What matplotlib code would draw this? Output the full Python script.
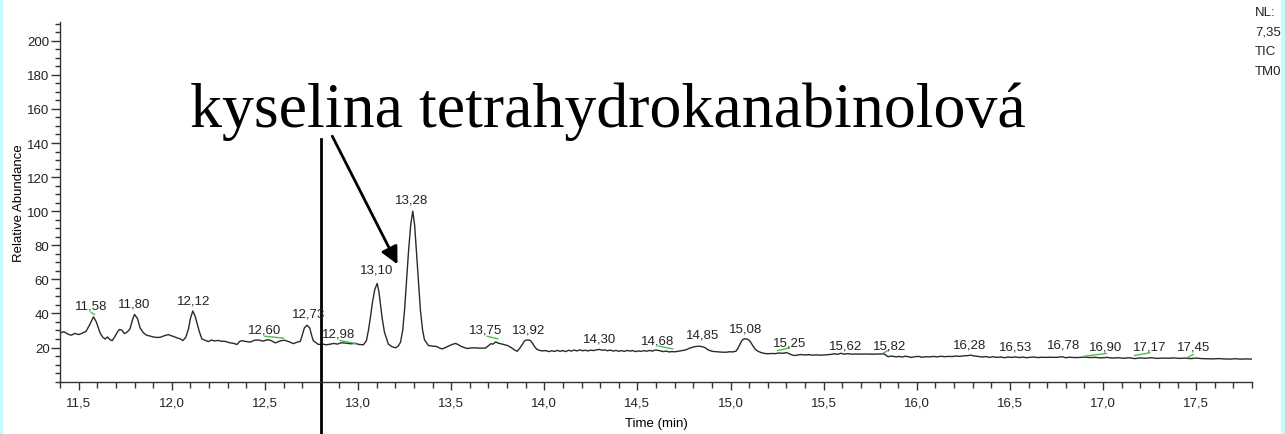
import matplotlib
matplotlib.use("Agg")
import matplotlib.pyplot as plt
from matplotlib.ticker import MultipleLocator, FuncFormatter
from matplotlib.patches import Rectangle

# TIC trace (time in min, relative abundance)
trace_t = [
    11.40, 11.42, 11.44, 11.46, 11.48, 11.50, 11.52, 11.54, 11.56, 11.58,
    11.595, 11.615, 11.63, 11.643, 11.655, 11.668, 11.68, 11.695, 11.708, 11.72,
    11.732, 11.745, 11.755, 11.765, 11.776, 11.79, 11.80, 11.816, 11.83, 11.848,
    11.865, 11.884, 11.90, 11.92, 11.938, 11.96, 11.982, 11.995, 12.009, 12.03,
    12.045, 12.06, 12.075, 12.09, 12.10, 12.113, 12.125, 12.135, 12.149, 12.162,
    12.18, 12.196, 12.215, 12.23, 12.249, 12.265, 12.287, 12.31, 12.33, 12.35,
    12.365, 12.377, 12.40, 12.422, 12.445, 12.465, 12.49, 12.518, 12.535, 12.556,
    12.58, 12.604, 12.625, 12.653, 12.675, 12.69, 12.70, 12.712, 12.726, 12.741,
    12.75, 12.76, 12.787, 12.81, 12.83, 12.852, 12.87, 12.89, 12.91, 12.932,
    12.96, 12.986, 13.005, 13.029, 13.045, 13.056, 13.067, 13.077, 13.09, 13.103,
    13.112, 13.12, 13.13, 13.142, 13.163, 13.18, 13.201, 13.215, 13.228, 13.24,
    13.25, 13.26, 13.271, 13.283, 13.294, 13.304, 13.314, 13.325, 13.335, 13.347,
    13.357, 13.378, 13.40, 13.422, 13.44, 13.452, 13.47, 13.486, 13.505, 13.524,
    13.54, 13.551, 13.57, 13.587, 13.61, 13.632, 13.655, 13.685, 13.70, 13.712,
    13.725, 13.739, 13.752, 13.766, 13.785, 13.802, 13.825, 13.84, 13.855, 13.87,
    13.884, 13.892, 13.90, 13.915, 13.927, 13.94, 13.949, 13.96, 13.972, 13.99,
    14.008, 14.025, 14.04, 14.055, 14.07, 14.085, 14.10, 14.115, 14.13, 14.145,
    14.16, 14.175, 14.19, 14.205, 14.22, 14.235, 14.25, 14.265, 14.28, 14.295,
    14.31, 14.325, 14.34, 14.355, 14.37, 14.385, 14.40, 14.415, 14.43, 14.445,
    14.46, 14.475, 14.49, 14.505, 14.52, 14.535, 14.55, 14.565, 14.58, 14.595,
    14.608, 14.625, 14.64, 14.655, 14.67, 14.685, 14.70, 14.72, 14.74, 14.76,
    14.78, 14.80, 14.815, 14.832, 14.847, 14.862, 14.88, 14.90, 14.915, 14.93,
    14.95, 14.975, 14.995, 15.01, 15.029, 15.04, 15.051, 15.062, 15.074, 15.087,
    15.099, 15.11, 15.12, 15.133, 15.147, 15.165, 15.18, 15.20, 15.22, 15.24,
    15.26, 15.28, 15.30, 15.315, 15.33, 15.345, 15.36, 15.38, 15.40, 15.42,
    15.44, 15.46, 15.486, 15.51, 15.535, 15.556, 15.575, 15.594, 15.61, 15.63,
    15.648, 15.67, 15.70, 15.73, 15.76, 15.79, 15.81, 15.825, 15.835, 15.846,
    15.86, 15.875, 15.89, 15.905, 15.92, 15.94, 15.955, 15.97, 15.99, 16.01,
    16.03, 16.05, 16.07, 16.09, 16.11, 16.13, 16.15, 16.17, 16.19, 16.21,
    16.23, 16.25, 16.27, 16.29, 16.31, 16.33, 16.35, 16.37, 16.39, 16.41,
    16.43, 16.45, 16.47, 16.49, 16.51, 16.53, 16.55, 16.57, 16.59, 16.61,
    16.63, 16.65, 16.67, 16.69, 16.72, 16.75, 16.78, 16.80, 16.82, 16.85,
    16.88, 16.90, 16.93, 16.96, 16.99, 17.02, 17.05, 17.08, 17.11, 17.14,
    17.17, 17.20, 17.23, 17.26, 17.29, 17.32, 17.35, 17.38, 17.41, 17.44,
    17.47, 17.50, 17.53, 17.56, 17.59, 17.62, 17.65, 17.68, 17.71, 17.74,
    17.77, 17.80,
]
trace_y = [
    28.5, 29.3, 28.0, 27.2, 28.3, 27.6, 28.4, 29.5, 33.5, 38.0,
    35.0, 28.6, 26.0, 25.0, 26.2, 24.6, 24.0, 26.5, 29.0, 30.6,
    30.2, 28.2, 28.6, 29.6, 31.0, 36.5, 39.4, 37.0, 31.5, 28.6,
    27.2, 26.7, 26.2, 25.9, 26.0, 26.9, 27.6, 27.0, 26.5, 25.6,
    25.1, 24.1, 26.0, 31.0, 37.0, 41.4, 38.5, 34.5, 29.0, 25.0,
    24.2, 23.5, 24.4, 23.8, 24.2, 23.7, 23.6, 22.8, 22.5, 21.8,
    23.6, 24.0, 23.5, 23.2, 24.3, 24.4, 23.8, 24.6, 24.0, 22.7,
    23.8, 24.3, 23.6, 22.3, 23.2, 23.6, 27.0, 31.5, 33.1, 31.5,
    27.5, 24.0, 21.8, 22.0, 21.6, 22.0, 22.4, 22.0, 22.8, 22.6,
    22.2, 22.4, 21.8, 21.6, 24.0, 30.0, 38.0, 46.0, 54.0, 57.6,
    53.0, 46.0, 37.0, 29.0, 22.0, 20.6, 19.8, 20.8, 23.0, 30.0,
    42.0, 58.0, 76.0, 92.0, 100.0, 92.0, 76.0, 58.0, 42.0, 30.0,
    24.5, 21.2, 20.8, 20.6, 19.6, 19.2, 20.0, 20.8, 21.8, 22.4,
    21.6, 20.8, 20.0, 19.4, 19.8, 19.8, 19.6, 19.7, 21.0, 22.2,
    22.0, 23.3, 22.6, 22.2, 21.6, 21.2, 19.8, 18.6, 17.8, 19.8,
    22.0, 23.6, 24.3, 24.4, 24.0, 22.0, 20.4, 19.0, 18.4, 18.0,
    18.2, 17.6, 18.1, 17.7, 18.3, 17.8, 18.2, 17.6, 18.4, 17.9,
    18.5, 18.0, 18.6, 18.1, 18.4, 18.0, 18.5, 18.2, 18.6, 18.9,
    18.4, 18.6, 18.1, 18.5, 17.9, 18.3, 17.8, 18.2, 17.7, 18.3,
    17.9, 18.2, 17.6, 18.0, 17.7, 18.2, 17.8, 18.3, 17.9, 18.5,
    18.4, 18.0, 17.6, 17.9, 17.4, 17.6, 17.5, 17.8, 18.2, 18.6,
    19.6, 20.3, 20.6, 20.8, 20.5, 20.0, 18.6, 17.8, 17.6, 17.5,
    17.3, 17.2, 17.5, 17.4, 17.8, 19.5, 22.0, 24.2, 25.1, 25.0,
    24.4, 22.8, 21.0, 19.0, 17.8, 17.0, 16.6, 16.3, 16.5, 16.4,
    16.8, 16.6, 17.0, 16.4, 15.6, 15.3, 15.6, 15.9, 15.6, 15.8,
    15.5, 15.7, 15.5, 15.7, 15.9, 16.3, 16.0, 16.6, 16.1, 16.4,
    16.1, 16.2, 16.1, 16.2, 16.1, 16.2, 16.2, 16.3, 15.4, 14.6,
    15.0, 14.8, 14.5, 14.8, 14.4, 14.9, 14.6, 14.2, 14.6, 14.8,
    14.3, 14.6, 14.5, 14.8, 14.5, 14.9, 14.6, 14.8, 14.7, 15.0,
    14.8, 15.1, 15.2, 15.5, 15.0, 14.8, 14.4, 14.7, 14.2, 14.6,
    14.2, 14.5, 14.0, 14.4, 14.2, 14.5, 14.1, 14.4, 14.0, 14.3,
    14.4, 14.1, 14.3, 14.2, 14.3, 14.2, 14.6, 14.0, 14.3, 14.1,
    14.2, 14.4, 14.1, 14.2, 13.9, 14.2, 13.8, 14.0, 13.7, 14.0,
    13.5, 13.9, 13.7, 14.0, 13.6, 13.8, 13.7, 13.9, 13.6, 13.8,
    13.5, 13.8, 13.5, 13.4, 13.3, 13.5, 13.3, 13.2, 13.4, 13.2,
    13.3, 13.2,
]

# retention time labels, where they sit
peak_times = [11.58, 11.80, 12.12, 12.60, 12.73, 12.98, 13.10, 13.28, 13.75,
              13.92, 14.30, 14.68, 14.85, 15.08, 15.25, 15.62, 15.82, 16.28,
              16.53, 16.78, 16.90, 17.17, 17.45]
label_x = [11.565, 11.798, 12.115, 12.497, 12.733, 12.895, 13.099, 13.287, 13.685,
           13.916, 14.298, 14.610, 14.852, 15.083, 15.319, 15.620, 15.852, 16.282,
           16.529, 16.787, 17.013, 17.249, 17.486]
label_y = [44.7, 45.9, 47.8, 30.6, 40.0, 28.2, 65.5, 106.6, 30.6,
           30.6, 25.1, 24.3, 27.6, 31.0, 23.1, 21.2, 21.2, 21.8,
           20.8, 21.8, 20.8, 20.8, 20.6]

# integration baselines (t0, t1, y0, y1)
base_t0 = [11.567, 12.50, 12.905, 13.694, 14.615, 15.253, 15.823, 16.90, 17.17, 17.457]
base_t1 = [11.585, 12.60, 12.986, 13.751, 14.689, 15.316, 15.848, 17.018, 17.25, 17.484]
base_y0 = [40.6, 26.6, 24.1, 26.6, 20.8, 18.2, 16.9, 14.9, 15.3, 14.3]
base_y1 = [39.4, 25.5, 22.4, 25.1, 19.2, 19.8, 18.4, 16.5, 16.9, 15.9]

side_info = ["NL:", "7,35", "TIC", "TM0"]

W, H = 1285, 435
fig = plt.figure(figsize=(W / 100, H / 100), dpi=100)
fig.patch.set_facecolor("white")

# light cyan window edges
fig.patches.append(Rectangle((0, 0), 2 / W, 1, transform=fig.transFigure,
                             color="#c4fbff", zorder=0))
fig.patches.append(Rectangle(((W - 4) / W, 0), 4 / W, 1, transform=fig.transFigure,
                             color="#c4fbff", zorder=0))

ax = fig.add_axes([60 / W, 1 - 382.6 / H, (1252 - 60) / W, (382.6 - 23) / H])
ax.plot(trace_t, trace_y, color="#2a2a2a", lw=1.0)

for t0, t1, y0, y1 in zip(base_t0, base_t1, base_y0, base_y1):
    ax.plot([t0, t1], [y0, y1], color="#4cbf4c", lw=1.0)

FS = 9.5
lab_font = dict(family="Liberation Sans", size=FS, color="#222222")
for t, lx, ly in zip(peak_times, label_x, label_y):
    ax.text(lx, ly, f"{t:.2f}".replace(".", ","), ha="center", va="center", **lab_font)

ax.set_xlim(11.4, 17.8)
ax.set_ylim(0, 211)
for s in ["top", "right"]:
    ax.spines[s].set_visible(False)
for s in ["left", "bottom"]:
    ax.spines[s].set_linewidth(1.0)
    ax.spines[s].set_color("#333333")

ax.xaxis.set_major_locator(MultipleLocator(0.5))
ax.xaxis.set_minor_locator(MultipleLocator(0.1))
ax.set_yticks(range(20, 201, 20))
ax.yaxis.set_minor_locator(MultipleLocator(5))
ax.xaxis.set_major_formatter(FuncFormatter(lambda v, p: f"{v:.1f}".replace(".", ",")))
ax.tick_params(axis="x", which="major", length=6, width=1, pad=5, color="#333333")
ax.tick_params(axis="x", which="minor", length=4.5, width=1, color="#333333")
ax.tick_params(axis="y", which="major", length=6.5, width=1, pad=1, color="#333333")
ax.tick_params(axis="y", which="minor", length=3.5, width=1, color="#333333")
for lbl in ax.get_xticklabels() + ax.get_yticklabels():
    lbl.set_fontfamily("Liberation Sans")
    lbl.set_fontsize(FS)
    lbl.set_color("#222222")

ax.set_xlabel("Time (min)", fontfamily="Liberation Sans", fontsize=FS, labelpad=6)
ax.set_ylabel("Relative Abundance", fontfamily="Liberation Sans", fontsize=FS, labelpad=2)

for i, s in enumerate(side_info):
    fig.text(1255 / W, 1 - (12.7 + 19.7 * i) / H, s, ha="left", va="center",
             fontfamily="Liberation Sans", fontsize=FS, color="#222222")

# compound annotation
fig.text(190 / W, 1 - 127 / H, "kyselina tetrahydrokanabinolová",
         fontfamily="Liberation Serif", fontsize=46, va="baseline", ha="left")
ax.annotate("", xy=(13.212, 68.8), xytext=(12.862, 144),
            arrowprops=dict(arrowstyle="-|>", lw=2, color="black",
                            mutation_scale=26, shrinkA=0, shrinkB=0),
            annotation_clip=False)
ax.plot([12.80, 12.80], [142.4, -31.5], color="black", lw=2, clip_on=False)

fig.savefig("out.png", dpi=100)
